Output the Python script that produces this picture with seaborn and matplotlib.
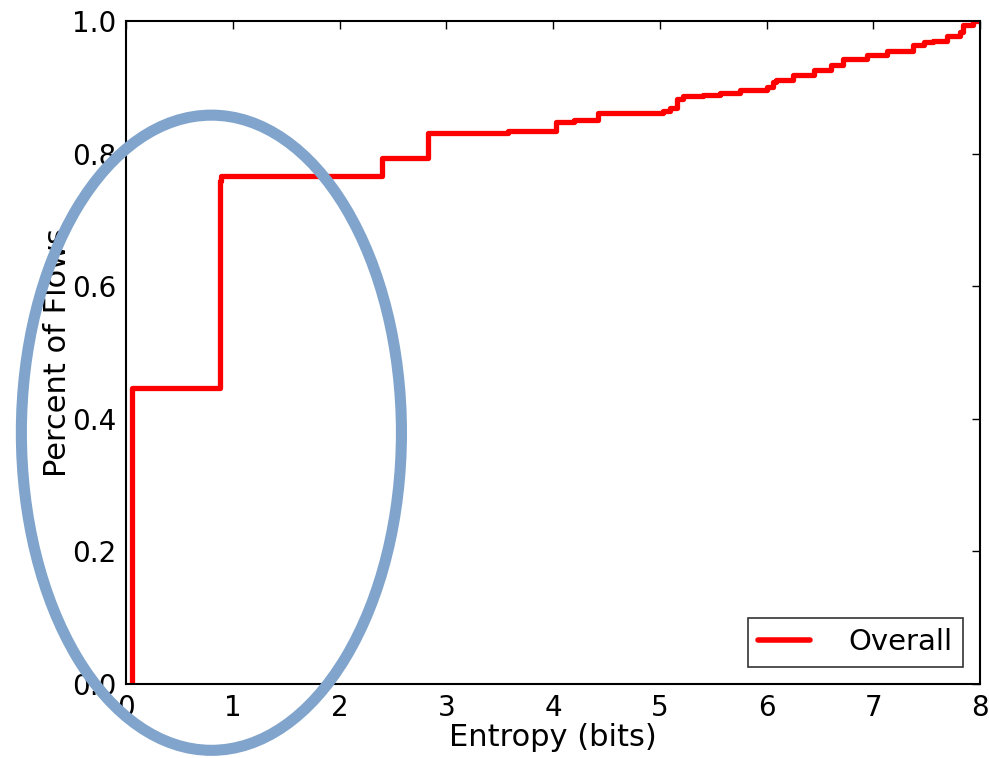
import matplotlib
matplotlib.use("Agg")
import matplotlib.pyplot as plt
from matplotlib.patches import Ellipse
import seaborn as sns
import pandas as pd

entropy_bits = [0.06, 0.06, 0.88, 0.89, 2.40, 2.83, 3.58, 4.03, 4.20, 4.42,
                5.03, 5.10, 5.16, 5.22, 5.40, 5.56, 5.75, 6.00, 6.06, 6.09,
                6.25, 6.44, 6.60, 6.72, 6.94, 7.13, 7.37, 7.47, 7.56, 7.69,
                7.81, 7.84, 7.93, 8.00]
percent_flows = [0.0, 0.446, 0.758, 0.766, 0.793, 0.831, 0.834, 0.848, 0.850, 0.861,
                 0.864, 0.869, 0.882, 0.887, 0.889, 0.892, 0.896, 0.900, 0.908, 0.911,
                 0.919, 0.926, 0.934, 0.942, 0.949, 0.955, 0.964, 0.969, 0.970, 0.977,
                 0.983, 0.994, 1.0, 1.0]
series_label = "Overall"
x_ticks = [0, 1, 2, 3, 4, 5, 6, 7, 8]
y_ticks = [0.0, 0.2, 0.4, 0.6, 0.8, 1.0]

# Highlight ellipse (data coordinates)
ellipse_center = (0.80, 0.379)
ellipse_size = (3.56, 0.958)

sns.set_style("white")
plt.rcParams['font.family'] = ['DejaVu Sans']
plt.rcParams['text.color'] = 'black'
plt.rcParams['axes.labelcolor'] = 'black'
plt.rcParams['xtick.color'] = 'black'
plt.rcParams['ytick.color'] = 'black'

df = pd.DataFrame({"Entropy": entropy_bits, "CDF": percent_flows,
                   "series": [series_label] * len(entropy_bits)})

fig = plt.figure(figsize=(9.89, 7.58), dpi=100)
ax = fig.add_axes([0.1274, 0.0976, 0.991 - 0.1274, 0.9723 - 0.0976])

sns.lineplot(data=df, x="Entropy", y="CDF", hue="series", palette=["#ff0000"],
             estimator=None, sort=False, drawstyle="steps-post",
             linewidth=3.8, ax=ax)

ax.set_xlim(0, 8)
ax.set_ylim(0, 1.0)
ax.set_xticks(x_ticks)
ax.set_xticklabels([str(t) for t in x_ticks])
ax.set_yticks(y_ticks)
ax.set_yticklabels([f"{t:.1f}" for t in y_ticks])
ax.tick_params(direction="in", length=6, width=1, top=True, right=True,
               labelsize=20, pad=7, color="black", labelcolor="black")
for s in ax.spines.values():
    s.set_color("black")
    s.set_linewidth(1.5)

ax.set_xlabel("Entropy (bits)", fontsize=22, labelpad=1, color="black")
ax.set_ylabel("Percent of Flows", fontsize=22, labelpad=0, color="black")

leg = ax.legend(loc="lower right", fontsize=21, frameon=True, fancybox=False,
                handlelength=1.8, borderpad=0.35, handletextpad=1.3,
                borderaxespad=0.6)
leg.get_frame().set_edgecolor("black")
leg.get_frame().set_linewidth(1.2)
for line in leg.get_lines():
    line.set_linewidth(4)
for t in leg.get_texts():
    t.set_color("black")

ell = Ellipse(ellipse_center, ellipse_size[0], ellipse_size[1], fill=False,
              edgecolor="#80a4cc", linewidth=8, clip_on=False, zorder=10)
ax.add_patch(ell)

fig.savefig("out.png", dpi=100)
